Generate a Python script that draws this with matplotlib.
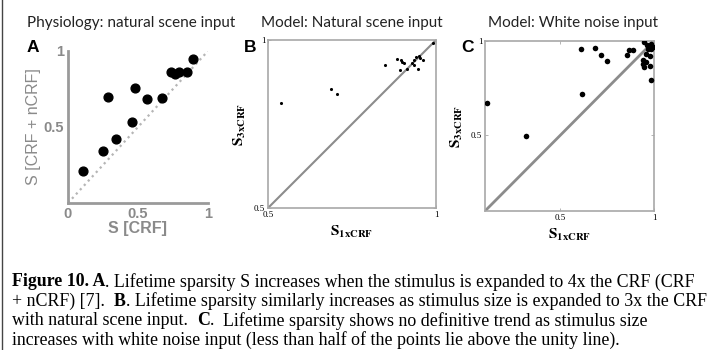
import matplotlib
matplotlib.use("Agg")
import matplotlib.pyplot as plt
from matplotlib.lines import Line2D

# ── data ─────────────────────────────────────────────────────────────────────
# A: physiology, natural scene input
a_crf = [0.11, 0.25, 0.345, 0.286, 0.46, 0.476, 0.567, 0.674, 0.733, 0.765, 0.795, 0.848, 0.895]
a_crf_ncrf = [0.21, 0.34, 0.42, 0.70, 0.53, 0.755, 0.687, 0.694, 0.86, 0.85, 0.864, 0.864, 0.947]

# B: model, natural scene input
b_1x = [0.54, 0.688, 0.705, 0.848, 0.883, 0.895, 0.90, 0.905, 0.893, 0.928, 0.935, 0.94,
        0.95, 0.953, 0.935, 0.945, 0.915, 0.96, 0.99]
b_3x = [0.812, 0.855, 0.84, 0.925, 0.943, 0.94, 0.935, 0.932, 0.91, 0.932, 0.94, 0.948,
        0.952, 0.945, 0.925, 0.915, 0.915, 0.94, 0.99]

# C: model, white noise input
c_1x = [0.112, 0.321, 0.610, 0.614, 0.685, 0.72, 0.750, 0.856, 0.867, 0.888, 0.947, 0.963,
        0.986, 0.995, 0.986, 0.942, 0.959, 0.945, 0.977, 0.981, 0.986, 0.942, 0.955, 0.97]
c_3x = [0.674, 0.497, 0.956, 0.718, 0.965, 0.928, 0.894, 0.924, 0.95, 0.95, 0.995, 0.977,
        0.986, 0.968, 0.956, 0.901, 0.889, 0.862, 0.919, 0.868, 0.795, 0.878, 0.93, 0.96]

TITLES = ["Physiology: natural scene input", "Model: Natural scene input", "Model: White noise input"]
CAPTION = [
    [("Figure 10. A", "bold"), (". Lifetime sparsity S increases when the stimulus is expanded to 4x the CRF (CRF", "normal")],
    [("+ nCRF) [7].", "normal"), ("  ", None), ("B", "bold"),
     (". Lifetime sparsity similarly increases as stimulus size is expanded to 3x the CRF", "normal")],
    [("with natural scene input.", "normal"), ("  ", None), ("C", "bold"),
     (".", "normal"), ("  ", None), ("Lifetime sparsity shows no definitive trend as stimulus size", "normal")],
    [("increases with white noise input (less than half of the points lie above the unity line).", "normal")],
]

W, H = 719, 350
plt.rcParams["mathtext.fontset"] = "stix"

fig = plt.figure(figsize=(W / 100, H / 100), dpi=100)


def px_axes(l, t, r, b):
    return fig.add_axes([l / W, 1 - b / H, (r - l) / W, (b - t) / H])


def fx(x):
    return x / W


def fy(y):
    return 1 - y / H


# ── panel A ──────────────────────────────────────────────────────────────────
axA = px_axes(68, 51, 208, 203)
axA.set_xlim(0, 1)
axA.set_ylim(0, 1)
axA.plot([0, 1], [0, 1], ls=":", color="#b5b5b5", lw=1.6)
axA.scatter(a_crf, a_crf_ncrf, s=40, color="black", zorder=3)
for s in ("top", "right"):
    axA.spines[s].set_visible(False)
for s in ("left", "bottom"):
    axA.spines[s].set_color("#9a9a9a")
    axA.spines[s].set_linewidth(2)
axA.set_xticks([0, 0.5, 1], ["0", "0.5", "1"])
axA.set_yticks([0.5, 1], ["0.5", "1"])
axA.tick_params(length=0, pad=3, labelcolor="#8a8a8a", labelsize=10.5)
for lab in axA.get_xticklabels() + axA.get_yticklabels():
    lab.set_fontfamily("Liberation Sans")
    lab.set_fontweight("bold")
axA.set_xlabel("S [CRF]", fontsize=11.5, color="#8a8a8a", family="Liberation Sans",
               fontweight="bold", labelpad=0)
axA.set_ylabel("S [CRF + nCRF]", fontsize=11.5, color="#8a8a8a", family="Liberation Sans",
               labelpad=2)


# ── panels B and C ───────────────────────────────────────────────────────────
def model_panel(l, t, r, b, lo, xs, ys, msize, lw):
    ax = px_axes(l, t, r, b)
    ax.set_xlim(lo, 1)
    ax.set_ylim(lo, 1)
    ax.plot([lo, 1], [lo, 1], color="#8c8c8c", lw=lw)
    ax.scatter(xs, ys, s=msize, color="black", zorder=3, linewidths=0)
    for s in ax.spines.values():
        s.set_color("#a8a8a8")
        s.set_linewidth(1.2)
    ax.tick_params(direction="in", length=2, width=0.6, color="#a8a8a8",
                   labelsize=6.5, pad=2, top=True, right=True)
    for lab in ax.get_xticklabels() + ax.get_yticklabels():
        lab.set_fontfamily("Liberation Serif")
    ax.set_xlabel(r"$\mathbf{S}_{\mathbf{1xCRF}}$", fontsize=11, labelpad=4)
    ax.set_ylabel(r"$\mathbf{S}_{\mathbf{3xCRF}}$", fontsize=11, labelpad=4)
    return ax


axB = model_panel(268, 40, 436, 208, 0.5, b_1x, b_3x, 5, 1.5)
axB.set_xticks([0.5, 1], ["0.5", "1"])
axB.set_yticks([0.5, 1], ["0.5", "1"])

axC = model_panel(485, 41, 654, 211, 0.1, c_1x, c_3x, 16, 2.0)
axC.set_xticks([0.5, 1], ["0.5", "1"])
axC.set_yticks([0.5, 1], ["0.5", "1"])

# ── titles and panel letters ─────────────────────────────────────────────────
for x, title in zip((131, 352, 573), TITLES):
    fig.text(fx(x), fy(23), title, ha="center", va="center", fontsize=11,
             family="Lato", color="#222222")
for x, letter in zip((33, 250, 468), "ABC"):
    fig.text(fx(x), fy(48), letter, ha="center", va="center", fontsize=12.5,
             family="Liberation Sans", fontweight="bold")

# ── caption (mixed bold / normal runs) ───────────────────────────────────────
renderer = fig.canvas.get_renderer()
cap_size = 12.9
space_w = cap_size * 100 / 72 * 0.25
for i, line in enumerate(CAPTION):
    x = 12
    y = 282 + i * 19.3
    for txt, weight in line:
        if weight is None:
            x += space_w * len(txt)
            continue
        t = fig.text(fx(x), fy(y), txt, ha="left", va="center", fontsize=cap_size,
                     family="Liberation Serif", fontweight=weight)
        x = t.get_window_extent(renderer).x1

# left frame edge of the original page
fig.add_artist(Line2D([fx(2), fx(2)], [0, 1], color="#444444", lw=1))

fig.savefig("out.png", dpi=100)
